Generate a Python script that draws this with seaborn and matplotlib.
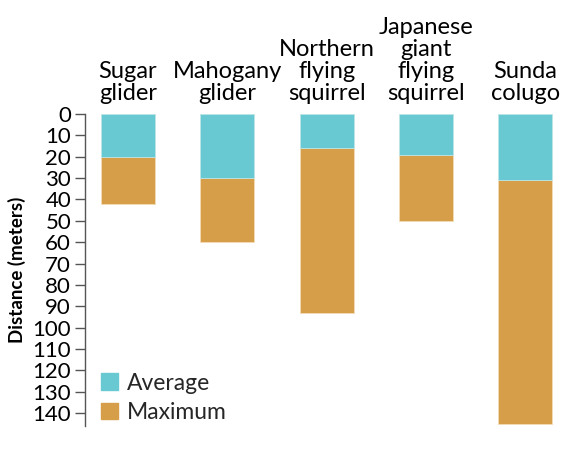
import matplotlib
matplotlib.use("Agg")
import matplotlib.pyplot as plt
import matplotlib.patches as mpatches
import numpy as np
import pandas as pd
import seaborn as sns

species = ["Sugar\nglider", "Mahogany\nglider", "Northern\nflying\nsquirrel",
           "Japanese\ngiant\nflying\nsquirrel", "Sunda\ncolugo"]
average_m = [20, 30, 16, 19, 31]
maximum_m = [42, 60, 93, 50, 145]
yticks = list(range(0, 150, 10))

col_avg = "#69c9d2"
col_max = "#d69e48"

sns.set_theme(style="white")
plt.rcParams["font.family"] = ["Lato", "DejaVu Sans"]

df = pd.DataFrame({"species": species, "Average": average_m, "Maximum": maximum_m})

fig = plt.figure(figsize=(5.72, 4.49), dpi=100)
ax = fig.add_axes([0.1486, 0.0512, 0.8394, 0.6949])

sns.barplot(data=df, x="species", y="Maximum", color=col_max, width=0.544,
            saturation=1, edgecolor="#f3dcb8", linewidth=0.6, ax=ax)
sns.barplot(data=df, x="species", y="Average", color=col_avg, width=0.544,
            saturation=1, edgecolor="#bfe9ed", linewidth=0.6, ax=ax)

ax.set_ylim(146, 0)
ax.set_xlim(-0.433, 4.4)
ax.set_yticks(yticks)
ax.set_yticklabels([str(t) for t in yticks], fontsize=16, color="black")
ax.tick_params(axis="y", length=7, width=1, color="#555555", pad=3, left=True)

ax.xaxis.tick_top()
ax.tick_params(axis="x", length=0, pad=7, labelsize=17, labelcolor="black")
for lab in ax.get_xticklabels():
    lab.set_linespacing(1.06)
ax.set_xlabel("")
ax.set_ylabel("Distance (meters)", fontsize=13.5, fontweight="bold", labelpad=5, color="black")

for s in ["top", "right", "bottom"]:
    ax.spines[s].set_visible(False)
ax.spines["left"].set_color("#555555")
ax.spines["left"].set_linewidth(1)

handles = [mpatches.Patch(color=col_avg, label="Average"),
           mpatches.Patch(color=col_max, label="Maximum")]
ax.legend(handles=handles, loc="lower left", bbox_to_anchor=(0.033, 0.01), frameon=False,
          fontsize=16.5, handlelength=0.75, handleheight=0.75, handletextpad=0.4,
          labelspacing=0.35, borderaxespad=0, borderpad=0)

fig.savefig("out.png", dpi=100)
